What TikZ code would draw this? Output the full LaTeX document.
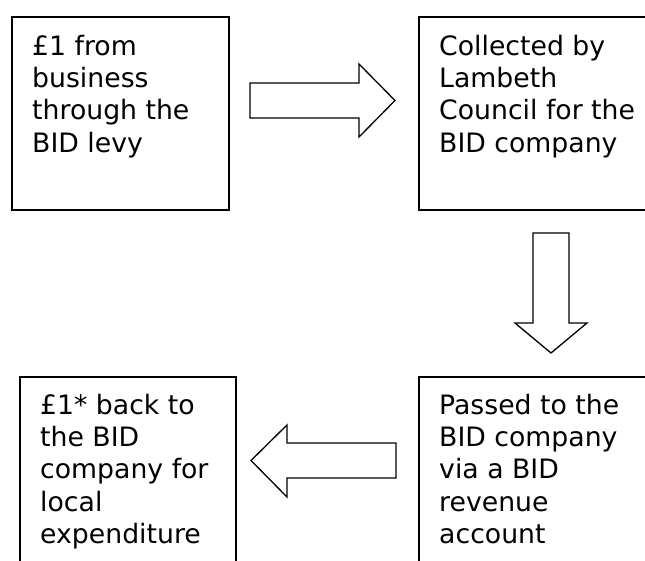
\documentclass[tikz,border=0pt]{standalone}
\usepackage{fontspec}
\setmainfont{DejaVu Sans}
\begin{document}
\begin{tikzpicture}[x=1pt,y=-1pt,
  box/.style={draw=black,line width=1.6pt,inner sep=0pt,anchor=north west},
  txt/.style={inner sep=0pt,anchor=north west,align=left,font=\fontsize{26.7}{32.3}\selectfont},
  fatarrow/.style={draw=black,line width=1.3pt,fill=white,line join=miter}]
\useasboundingbox (0,0) rectangle (645,561);
\clip (0,0) rectangle (645,561);
% boxes
\node[box,minimum width=217pt,minimum height=193pt] (b1) at (11,16) {};
\node[box,minimum width=250pt,minimum height=193pt] (b2) at (418,16) {};
\node[box,minimum width=216pt,minimum height=220pt] (b3) at (19,376) {};
\node[box,minimum width=250pt,minimum height=220pt] (b4) at (418,376) {};
% texts
\node[txt] (t1) at (32,34.7) {£1 from\\business\\through the\\BID levy};
\node[txt] (t2) at (439,34.7) {Collected by\\Lambeth\\Council for the\\BID company};
\node[txt] (t3) at (40,393.7) {£1* back to\\the BID\\company for\\local\\expenditure};
\node[txt] (t4) at (439,393.7) {Passed to the\\BID company\\via a BID\\revenue\\account};
% block arrows
\draw[fatarrow] (250,83) -- (359,83) -- (359,64) -- (395,100.5) -- (359,137) -- (359,118) -- (250,118) -- cycle;
\draw[fatarrow] (533,233) -- (569,233) -- (569,323) -- (587,323) -- (551,353) -- (515,323) -- (533,323) -- cycle;
\draw[fatarrow] (396,443) -- (287,443) -- (287,425) -- (251,460.5) -- (287,497) -- (287,478) -- (396,478) -- cycle;
\end{tikzpicture}
\end{document}
